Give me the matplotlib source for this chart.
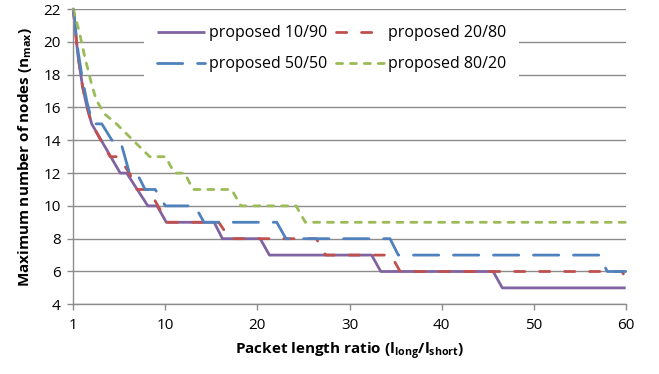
# Maximum number of nodes vs packet length ratio, step curves.

import matplotlib
matplotlib.use("Agg")
import matplotlib.pyplot as plt

plt.rcParams['font.family'] = ['Open Sans', 'DejaVu Sans']
plt.rcParams['mathtext.fontset'] = 'custom'
plt.rcParams['mathtext.rm'] = 'Open Sans:bold'
plt.rcParams['mathtext.bf'] = 'Open Sans:bold'

# x positions on the category axis (0 = first category, labelled "1")
x_ticks = [0, 10, 20, 30, 40, 50, 60]
x_tick_labels = ['1', '10', '20', '30', '40', '50', '60']
y_ticks = [4, 6, 8, 10, 12, 14, 16, 18, 20, 22]

labels = ['proposed 10/90', 'proposed 20/80', 'proposed 50/50', 'proposed 80/20']

# proposed 10/90
purple_x = [0, 0.5, 1, 1.5, 2, 5.1, 5.8, 8.1, 9.1, 10.1, 15.3, 16.2, 20.3, 21.3,
            32.4, 33.4, 45.6, 46.6, 60]
purple_y = [22, 19.2, 17.3, 16, 15, 12, 12, 10, 10, 9, 9, 8, 8, 7,
            7, 6, 6, 5, 5]

# proposed 20/80
red_x = [0, 0.5, 1, 1.5, 2, 4, 4.9, 6.1, 6.9, 8.2, 10.2, 15.8, 17, 26.4, 27.4,
         34.5, 35.5, 59.6, 60]
red_y = [22, 19.2, 17.3, 16, 15, 13, 13, 12, 11, 11, 9, 9, 8, 8, 7,
         7, 6, 6, 5.6]

# proposed 50/50
blue_x = [0, 0.5, 1, 1.5, 2.1, 3.1, 4.2, 5.1, 6.1, 6.9, 7.8, 8.9, 10, 13.2, 14.2,
          22.1, 23.1, 34.4, 35.3, 57.1, 58, 60]
blue_y = [22, 19.5, 17.7, 16.3, 15, 15, 14, 14, 12, 12, 11, 11, 10, 10, 9,
          9, 8, 8, 7, 7, 6, 6]

# proposed 80/20
green_x = [0, 0.7, 1.24, 2, 2.5, 3.4, 4.6, 8.3, 10, 11, 12.1, 13, 17.2, 18.2,
           24.2, 25.2, 60]
green_y = [22, 20.5, 19.1, 17.4, 16.45, 15.6, 15.05, 13, 13, 12, 12, 11, 11, 10,
           10, 9, 9]

colors = ['#8064A2', '#C0504D', '#4F81BD', '#9BBB59']
styles = ['-', (0, (3.7, 5.3)), (0, (9.1, 5.3)), (0, (2.2, 2.8))]

fig = plt.figure(figsize=(6.59, 3.74), dpi=100)
ax = fig.add_axes([0.1112, 0.1864, 0.9495 - 0.1112, 0.9757 - 0.1864])

series = [(purple_x, purple_y), (red_x, red_y), (blue_x, blue_y), (green_x, green_y)]
lines = []
for (xs, ys), c, ls, lab in zip(series, colors, styles, labels):
    ln, = ax.plot(xs, ys, color=c, linestyle=ls, linewidth=2.0, label=lab,
                  dash_capstyle='round', solid_capstyle='butt', clip_on=False)
    lines.append(ln)

ax.set_xlim(0, 60)
ax.set_ylim(4, 22)
ax.set_xticks(x_ticks)
ax.set_xticklabels(x_tick_labels)
ax.set_yticks(y_ticks)

# Grid
ax.grid(axis='y', color='#8C8C8C', linewidth=1.0)
ax.set_axisbelow(True)

for s in ['top', 'right']:
    ax.spines[s].set_visible(False)
for s in ['left', 'bottom']:
    ax.spines[s].set_color('#8C8C8C')
    ax.spines[s].set_linewidth(1.0)

ax.tick_params(axis='both', colors='#8C8C8C', labelcolor='black', labelsize=11,
               length=4, width=1.0)
ax.tick_params(axis='x', pad=6)
ax.tick_params(axis='y', pad=5)

ax.set_xlabel(r'Packet length ratio (l$_{\mathrm{long}}$/l$_{\mathrm{short}}$)',
              fontsize=11, fontweight='bold', labelpad=5)
ax.set_ylabel(r'Maximum number of nodes (n$_{\mathrm{max}}$)',
              fontsize=11, fontweight='bold', labelpad=7)

# legend filled row by row: 10/90, 20/80 / 50/50, 80/20
order = [0, 2, 1, 3]
leg = ax.legend([lines[i] for i in order], [labels[i] for i in order],
                ncol=2, loc='upper left', bbox_to_anchor=(0.128, 0.989),
                fontsize=11.5, frameon=True, handlelength=3.0, handletextpad=0.3,
                columnspacing=0.5, labelspacing=0.95, borderpad=0.8, borderaxespad=0)
leg.get_frame().set_facecolor('white')
leg.get_frame().set_edgecolor('none')
leg.get_frame().set_alpha(1.0)
leg.get_frame().set_boxstyle('square', pad=0)

plt.savefig('out.png', dpi=100)
